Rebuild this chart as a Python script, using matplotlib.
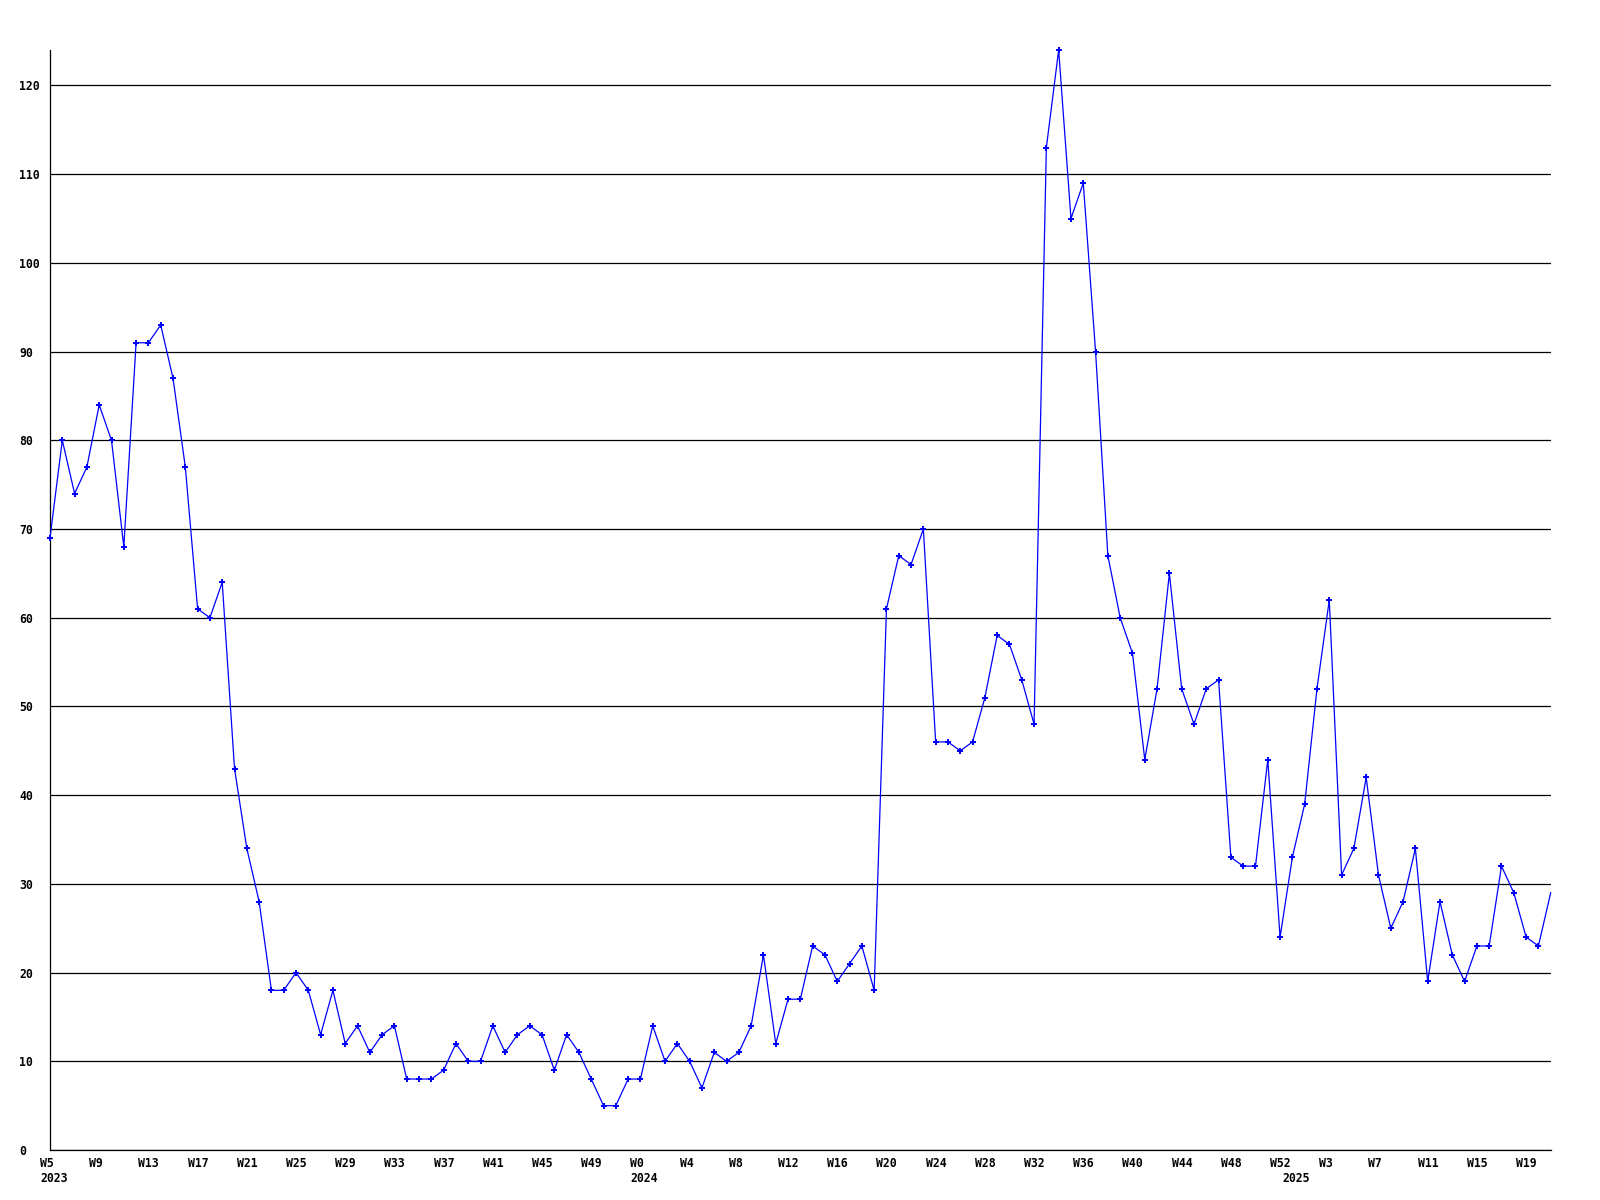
import matplotlib
matplotlib.use("Agg")
import matplotlib.pyplot as plt
from matplotlib.transforms import offset_copy

# weekly counts, starting at W5 2023
values = [69, 80, 74, 77, 84, 80, 68, 91, 91, 93, 87, 77, 61, 60, 64,
          43, 34, 28, 18, 18, 20, 18, 13, 18, 12, 14, 11, 13, 14,
          8, 8, 8, 9, 12, 10, 10, 14, 11, 13, 14, 13, 9, 13, 11, 8, 5, 5, 8,
          8, 14, 10, 12, 10, 7, 11, 10, 11, 14, 22, 12, 17, 17, 23, 22, 19, 21, 23, 18,
          61, 67, 66, 70, 46, 46, 45, 46, 51, 58, 57, 53, 48,
          113, 124, 105, 109, 90, 67, 60, 56, 44, 52, 65, 52, 48, 52, 53,
          33, 32, 32, 44, 24, 33, 39, 52, 62, 31, 34, 42, 31, 25, 28, 34,
          19, 28, 22, 19, 23, 23, 32, 29, 24, 23, 29]

week_labels = ['W5', 'W9', 'W13', 'W17', 'W21', 'W25', 'W29', 'W33', 'W37', 'W41', 'W45', 'W49',
               'W0', 'W4', 'W8', 'W12', 'W16', 'W20', 'W24', 'W28', 'W32', 'W36', 'W40', 'W44', 'W48', 'W52',
               'W3', 'W7', 'W11', 'W15', 'W19']
years = ['2023', '2024', '2025']
year_pos = [0, 48, 101]  # index of first week shown for each year

x = list(range(len(values)))
tick_pos = list(range(0, 4 * len(week_labels), 4))

fig = plt.figure(figsize=(16, 12), dpi=100)
ax = fig.add_axes([50 / 1600, 50 / 1200, 1500.7 / 1600, 1100 / 1200])

font = dict(family='DejaVu Sans Mono', fontweight='bold', fontsize=8.3, color='black')

ax.plot(x, values, color='#0000ff', linewidth=0.9, marker='P', markersize=5,
        markeredgewidth=0, markevery=slice(0, len(values) - 1), clip_on=False, zorder=3)

ax.set_xlim(0, len(values) - 1)
ax.set_ylim(0, max(values))

ax.set_yticks(range(0, 121, 10))
ax.set_yticklabels([str(v) for v in range(0, 121, 10)], **font)
for lab in ax.get_yticklabels():
    lab.set_ha('left')
ax.tick_params(axis='y', length=0, pad=22)
ax.yaxis.grid(True, color='black', linewidth=0.9)
ax.set_axisbelow(True)

ax.set_xticks(tick_pos)
ax.set_xticklabels([])
ax.tick_params(axis='x', length=0)

tr = ax.get_xaxis_transform()
week_tr = offset_copy(tr, fig=fig, x=-10, y=-16.7, units='dots')
year_tr = offset_copy(tr, fig=fig, x=-10, y=-31.7, units='dots')
for p, lab in zip(tick_pos, week_labels):
    ax.text(p, 0, lab, transform=week_tr, ha='left', va='baseline', **font)
for p, lab in zip(year_pos, years):
    ax.text(p, 0, lab, transform=year_tr, ha='left', va='baseline', **font)

for s in ['top', 'right']:
    ax.spines[s].set_visible(False)
for s in ['left', 'bottom']:
    ax.spines[s].set_color('black')
    ax.spines[s].set_linewidth(0.9)

fig.savefig('out.png', dpi=100, facecolor='white')
